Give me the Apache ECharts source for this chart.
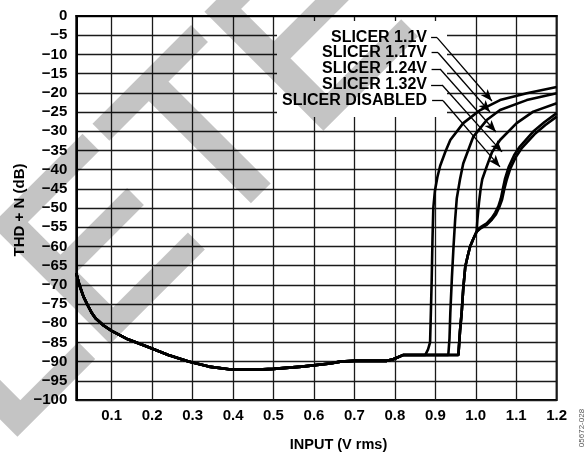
<!DOCTYPE html>
<html><head><meta charset="utf-8">
<script src="https://cdn.jsdelivr.net/npm/echarts@6/dist/echarts.min.js"></script>
<style>html,body{margin:0;padding:0;background:#fff}#c{width:584px;height:452px;position:relative}</style>
</head><body><div id="c"></div>
<script>
// ---- data ----
const xTicks = [0.1,0.2,0.3,0.4,0.5,0.6,0.7,0.8,0.9,1.0,1.1,1.2];
const xMin = 0.0125, xMax = 1.2;
const yMin = -100, yMax = 0, yStep = 5;

// common low-level part of all curves
const baseCurve = [
  [0.0125,-67],[0.02,-70],[0.03,-73],[0.04,-75.2],[0.05,-77.2],[0.06,-78.7],[0.08,-80.6],
  [0.1,-82],[0.14,-84.2],[0.19,-86.2],[0.24,-88.3],[0.29,-90],[0.34,-91.3],[0.39,-92],
  [0.46,-92.1],[0.5,-91.9],[0.57,-91.3],[0.64,-90.5],[0.665,-90],[0.7,-89.8],[0.78,-89.8],
  [0.796,-89.4],[0.82,-88.3],[0.87,-88.3]
];
const tail110 = [
  [0.875,-88.3],[0.882,-86.8],[0.887,-85],[0.889,-77],[0.891,-68.7],[0.893,-58],[0.895,-50],
  [0.899,-45.5],[0.905,-42],[0.912,-39],[0.925,-35.3],[0.937,-32.3],[0.969,-27.9],
  [1.011,-24.5],[1.06,-21.9],[1.126,-20.1],[1.2,-18.5]
];
const tail117 = [
  [0.932,-88.3],[0.935,-84],[0.937,-77.4],[0.941,-68],[0.945,-60],[0.949,-53],[0.953,-47.5],
  [0.961,-42.5],[0.969,-38.4],[0.994,-31.4],[1.027,-27.1],[1.06,-24.5],[1.126,-21.9],[1.2,-20.1]
];
const sharedHigh = [
  [0.957,-88.3],[0.961,-82],[0.965,-77.4],[0.969,-71],[0.974,-65.3],[0.98,-62.5],
  [0.986,-60],[0.994,-58],[1.002,-56.2]
];
const tail124 = [
  [1.004,-53],[1.008,-48.5],[1.012,-45],[1.016,-42.5],[1.027,-39.2],[1.04,-35.5],
  [1.06,-32.3],[1.101,-27.9],[1.142,-24.9],[1.2,-22.7]
];
const tail132 = [
  [1.012,-55],[1.027,-54],[1.04,-52.5],[1.048,-51.2],[1.056,-49.5],[1.062,-47.5],[1.067,-45],
  [1.072,-42.5],[1.081,-39.4],[1.095,-36.2],[1.109,-34],[1.142,-30.1],[1.17,-27.6],[1.2,-25.3]
];
const tailDisabled = [
  [1.012,-55.3],[1.027,-54.4],[1.04,-53],[1.05,-51.6],[1.058,-49.8],[1.065,-47.8],[1.07,-45.3],
  [1.076,-42.8],[1.085,-39.8],[1.099,-36.7],[1.113,-34.5],[1.145,-30.8],[1.172,-28.4],[1.2,-26.2]
];

const seriesNames = ['SLICER 1.1V','SLICER 1.17V','SLICER 1.24V','SLICER 1.32V','SLICER DISABLED'];
// annotation leader lines (data coordinates): start of dash, bend, arrow tip
const leadStart = [[0.8895,-5.65],[0.8907,-9.56],[0.8907,-13.8],[0.8895,-17.97],[0.892,-22.06]];
const leadBend  = [[0.9043,-5.65],[0.9068,-9.56],[0.9117,-13.8],[0.9167,-17.97],[0.9192,-22.06]];
const leadTip   = [[1.040,-22.14],[1.0351,-25.0],[1.050,-30.2],[1.0648,-35.4],[1.0598,-39.3]];

// ---- build ----
const curves = [
  baseCurve.concat(tail110),
  baseCurve.concat(tail117),
  baseCurve.concat(sharedHigh, tail124),
  baseCurve.concat(sharedHigh, tail132),
  baseCurve.concat(sharedHigh, tailDisabled)
];

const chart = echarts.init(document.getElementById('c'), null, {renderer:'canvas'});
const FONT = '"Liberation Sans", Arial, Helvetica, sans-serif';

const markData = [];
for (let i = 0; i < leadStart.length; i++) {
  markData.push([{coord: leadStart[i], symbol:'none'}, {coord: leadBend[i], symbol:'none'}]);
  markData.push([{coord: leadBend[i], symbol:'none'}, {coord: leadTip[i], symbol:'arrow'}]);
}

const series = curves.map((d, i) => ({
  name: seriesNames[i],
  type: 'line',
  data: d,
  showSymbol: false,
  symbol: 'none',
  smooth: false,
  silent: true,
  z: 3,
  lineStyle: {color: '#000', width: 2.6},
  emphasis: {disabled: true},
  markLine: i === 0 ? {
    silent: true,
    animation: false,
    symbolSize: [7, 12],
    lineStyle: {color: '#000', width: 1.3, type: 'solid'},
    label: {show: false},
    emphasis: {disabled: true},
    data: markData
  } : undefined
}));

const graphics = [
  {type:'rect', shape:{x:277, y:21, width:170, height:96}, style:{fill:'#fff'}, z:1, silent:true}
];
const rowY = [37.7, 52.9, 69, 85, 100.7];
seriesNames.forEach((t, i) => {
  graphics.push({type:'text', x:427, y:rowY[i], z:5, silent:true,
    style:{text:t, font:'bold 16px ' + FONT, fill:'#000', align:'right', verticalAlign:'middle',
           textAlign:'right', textVerticalAlign:'middle'}});
});
graphics.push({type:'text', x:338.5, y:444.5, z:5, silent:true,
  style:{text:'INPUT (V rms)', font:'bold 14.5px ' + FONT, fill:'#000', align:'center', verticalAlign:'middle',
         textAlign:'center', textVerticalAlign:'middle'}});
graphics.push({type:'text', x:20, y:210, rotation:Math.PI/2, z:5, silent:true,
  style:{text:'THD + N (dB)', font:'bold 15px ' + FONT, fill:'#000', align:'center', verticalAlign:'middle',
         textAlign:'center', textVerticalAlign:'middle'}});
graphics.push({type:'text', x:582, y:428, rotation:Math.PI/2, z:5, silent:true,
  style:{text:'05672-028', font:'8px ' + FONT, fill:'#555', align:'center', verticalAlign:'middle',
         textAlign:'center', textVerticalAlign:'middle'}});
// watermark: opaque black on its own layer; the layer is made translucent below
graphics.push({type:'text', x:375, y:-17, rotation:Math.PI/4, zlevel:1, z:100, silent:true,
  style:{text:'OBSOLETE', font:'236px ' + FONT, fill:'#000', stroke:'#000', lineWidth:6,
         align:'right', verticalAlign:'middle', textAlign:'right', textVerticalAlign:'middle'}});

chart.setOption({
  animation: false,
  backgroundColor: '#fff',
  grid: {left: 76.3, right: 27.3, top: 16, bottom: 52, show: true, borderColor: '#000', borderWidth: 2},
  xAxis: {
    type: 'value', min: xMin, max: xMax,
    axisLine: {show: true, lineStyle: {color: '#000', width: 2}},
    axisTick: {show: false, customValues: xTicks},
    axisLabel: {customValues: xTicks, margin: 8, color: '#000', fontFamily: FONT, fontWeight: 'bold', fontSize: 15,
      formatter: v => v.toFixed(1)},
    splitLine: {show: true, lineStyle: {color: '#1a1a1a', width: 1.3}}
  },
  yAxis: {
    type: 'value', min: yMin, max: yMax, interval: yStep,
    axisLine: {show: true, lineStyle: {color: '#000', width: 2}},
    axisTick: {show: false},
    axisLabel: {margin: 9, color: '#000', fontFamily: FONT, fontWeight: 'bold', fontSize: 15,
      formatter: v => v === 0 ? '0' : '\u2212' + Math.abs(v)},
    splitLine: {show: true, lineStyle: {color: '#1a1a1a', width: 1.3}}
  },
  graphic: {elements: graphics},
  series: series
});
function fadeWatermark() {
  try {
    const layer = chart.getZr().painter.getLayer(1);
    if (layer && layer.dom) layer.dom.style.opacity = '0.231';
  } catch (e) {}
}
fadeWatermark();
chart.on('finished', fadeWatermark);
</script>
</body></html>
